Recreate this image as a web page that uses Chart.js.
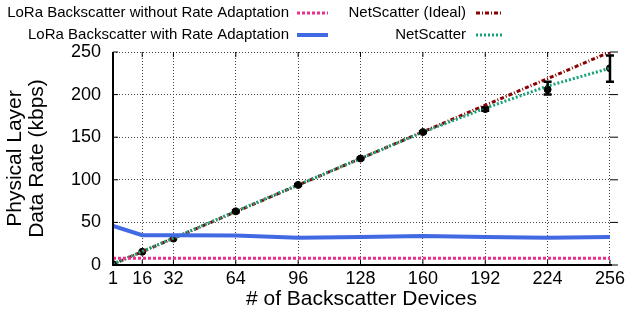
<!DOCTYPE html>
<html lang="en">
<head>
  <meta charset="UTF-8" />
  <title>Physical Layer Data Rate</title>
  <script src="https://cdn.jsdelivr.net/npm/chart.js"></script>
  <style>
    html, body { margin: 0; padding: 0; background: #fff; }
    #wrap { width: 628px; height: 311px; position: relative; }
  </style>
</head>
<body>
  <div id="wrap"><canvas id="rateChart"></canvas></div>

  <script>
    // values
    const devices = [1, 16, 32, 64, 96, 128, 160, 192, 224, 256];
    const xTicks = [1, 16, 32, 64, 96, 128, 160, 192, 224, 256];
    const yTicks = [0, 50, 100, 150, 200, 250];

    const loraNoAdapt = [8, 8, 8, 8, 8, 8, 8, 8, 8, 8];
    const loraAdapt = [46, 35, 35, 34.5, 32, 33, 34, 33, 32, 33];
    const netIdeal = [1, 15.6, 31.3, 62.5, 93.8, 125, 156.3, 187.5, 218.8, 250];
    const netScatter = [1, 16, 31.5, 63, 94, 125, 156, 184, 210, 231];
    const measured = [1, 15.5, 31, 63, 94, 125, 156, 183, 206, 231];
    const errLow = [1, 15, 30.5, 62, 93, 124, 155, 181, 200, 215];
    const errHigh = [1, 16, 31.5, 64, 95, 126, 157, 185, 215, 246];

    const legendRows = [
      [
        { label: "LoRa Backscatter without Rate Adaptation", color: "#ee2e8c", dash: [3, 2], width: 3 },
        { label: "NetScatter (Ideal)", color: "#8b0000", dash: [4, 2, 1, 2], width: 3 }
      ],
      [
        { label: "LoRa Backscatter with Rate Adaptation", color: "#4169e1", dash: [], width: 4 },
        { label: "NetScatter", color: "#14a37a", dash: [2, 2], width: 3 }
      ]
    ];

    const font = "Liberation Sans, Arial, sans-serif";

    function pts(ys) {
      return devices.map((x, i) => ({ x: x, y: ys[i] }));
    }

    // legend in gnuplot style: text right aligned, sample on the right
    const keyPlugin = {
      id: "key",
      afterDraw(chart) {
        const ctx = chart.ctx;
        ctx.save();
        ctx.font = "15px " + font;
        ctx.textAlign = "right";
        ctx.textBaseline = "middle";
        const textEnds = [289, 466];
        const sampleX = [[297, 328], [476, 503]];
        const rowY = [13, 35];
        legendRows.forEach((row, r) => {
          row.forEach((item, c) => {
            ctx.fillStyle = "#000";
            ctx.fillText(item.label, textEnds[c], rowY[r]);
            ctx.beginPath();
            ctx.strokeStyle = item.color;
            ctx.lineWidth = item.width;
            ctx.setLineDash(item.dash);
            ctx.moveTo(sampleX[c][0], rowY[r]);
            ctx.lineTo(sampleX[c][1], rowY[r]);
            ctx.stroke();
          });
        });
        ctx.restore();
      }
    };

    // error bars, inward ticks and the left/bottom border
    const extrasPlugin = {
      id: "extras",
      afterDatasetsDraw(chart) {
        const ctx = chart.ctx;
        const xs = chart.scales.x, ys = chart.scales.y;
        const area = chart.chartArea;
        ctx.save();
        ctx.setLineDash([]);
        ctx.strokeStyle = "#000";
        ctx.lineWidth = 2.5;
        devices.forEach((d, i) => {
          if (errHigh[i] - errLow[i] < 2) return;
          const px = xs.getPixelForValue(d);
          const top = ys.getPixelForValue(errHigh[i]);
          const bot = ys.getPixelForValue(errLow[i]);
          ctx.beginPath();
          ctx.moveTo(px, top); ctx.lineTo(px, bot);
          ctx.moveTo(px - 4, top); ctx.lineTo(px + 4, top);
          ctx.moveTo(px - 4, bot); ctx.lineTo(px + 4, bot);
          ctx.stroke();
        });

        ctx.lineWidth = 1;
        yTicks.forEach(v => {
          const py = ys.getPixelForValue(v);
          ctx.beginPath();
          ctx.moveTo(area.left, py); ctx.lineTo(area.left + 5, py);
          ctx.moveTo(area.right + 8, py); ctx.lineTo(area.right, py);
          ctx.stroke();
        });
        xTicks.forEach(v => {
          const px = xs.getPixelForValue(v);
          ctx.beginPath();
          ctx.moveTo(px, area.bottom); ctx.lineTo(px, area.bottom - 5);
          ctx.moveTo(px, area.top); ctx.lineTo(px, area.top + 5);
          ctx.stroke();
        });

        ctx.lineWidth = 2;
        ctx.beginPath();
        ctx.moveTo(area.left, area.top);
        ctx.lineTo(area.left, area.bottom);
        ctx.lineTo(area.right + 2, area.bottom);
        ctx.stroke();
        ctx.restore();
      }
    };

    const ctx = document.getElementById("rateChart").getContext("2d");
    new Chart(ctx, {
      type: "line",
      data: {
        datasets: [
          {
            label: "LoRa Backscatter without Rate Adaptation",
            data: pts(loraNoAdapt),
            borderColor: "#ee2e8c",
            borderWidth: 3,
            borderDash: [3, 2],
            pointRadius: 0
          },
          {
            label: "LoRa Backscatter with Rate Adaptation",
            data: pts(loraAdapt),
            borderColor: "#4169e1",
            borderWidth: 4,
            pointRadius: 0
          },
          {
            label: "NetScatter",
            data: pts(netScatter),
            borderColor: "#14a37a",
            borderWidth: 3,
            borderDash: [2, 2],
            pointRadius: 0
          },
          {
            label: "NetScatter (Ideal)",
            data: pts(netIdeal),
            borderColor: "#8b0000",
            borderWidth: 3,
            borderDash: [4, 2, 1, 2],
            borderDashOffset: 2,
            pointRadius: 0
          },
          {
            label: "Measured",
            data: pts(measured),
            showLine: false,
            pointRadius: 3.5,
            pointBackgroundColor: "#000",
            pointBorderColor: "#000"
          }
        ]
      },
      options: {
        responsive: true,
        maintainAspectRatio: false,
        animation: false,
        layout: { padding: { top: 52, right: 18, left: 4, bottom: 0 } },
        plugins: {
          legend: { display: false },
          tooltip: { enabled: false }
        },
        scales: {
          x: {
            type: "linear",
            min: 1,
            max: 256,
            afterBuildTicks: s => { s.ticks = xTicks.map(v => ({ value: v })); },
            afterFit: s => { s.height = 46; },
            border: { display: false, dash: [1, 2] },
            grid: {
              color: "#444",
              lineWidth: 1,
              tickLength: 0,
              drawTicks: false
            },
            ticks: {
              color: "#000",
              font: { family: font, size: 18 },
              padding: 3,
              maxRotation: 0,
              autoSkip: false,
              callback: v => String(v)
            },
            title: {
              display: true,
              text: "# of Backscatter Devices",
              color: "#000",
              font: { family: font, size: 21, lineHeight: 1.1 },
              padding: { top: 0, bottom: 0 }
            }
          },
          y: {
            min: 0,
            max: 250,
            afterBuildTicks: s => { s.ticks = yTicks.map(v => ({ value: v })); },
            afterFit: s => { s.width = 109; },
            border: { display: false, dash: [1, 2] },
            grid: {
              color: "#444",
              lineWidth: 1,
              tickLength: 0,
              drawTicks: false
            },
            ticks: {
              color: "#000",
              font: { family: font, size: 18 },
              padding: 12
            },
            title: {
              display: true,
              text: ["Physical Layer", "Data Rate (kbps)"],
              color: "#000",
              font: { family: font, size: 21, lineHeight: 1.05 },
              padding: { top: 0, bottom: 0 }
            }
          }
        }
      },
      plugins: [keyPlugin, extrasPlugin]
    });
  </script>
</body>
</html>
